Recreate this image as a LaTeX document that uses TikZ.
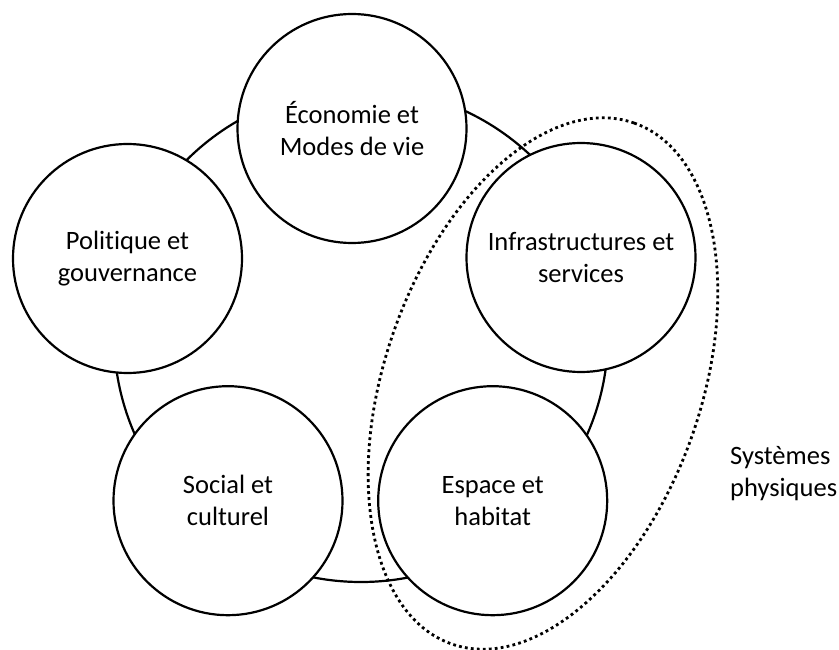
\documentclass[tikz,border=0pt]{standalone}
\usepackage{fontspec}
\setmainfont{Carlito}[RawFeature=-liga]
\begin{document}
\begin{tikzpicture}[x=1pt,y=-1pt,
  pole/.style={circle,draw,line width=2.2pt,fill=white,minimum size=229pt,inner sep=0pt,align=center,font=\fontsize{26.5}{32}\selectfont},
  ring/.style={draw,line width=2.2pt},
  group/.style={line width=2.8pt,dash pattern=on 2.8pt off 3.2pt}]
\useasboundingbox (0,0) rectangle (839,650);
\coordinate (o) at (361,335);
\draw[ring] (o) circle[radius=247];
\node[pole] (eco) at (352,128.5) {Économie et\\Modes de vie};
\node[pole] (pol) at (127.5,258.5) {Politique et\\gouvernance};
\node[pole] (inf) at (581,257.5) {Infrastructures et\\services};
\node[pole] (soc) at (228,500.7) {Social et\\culturel};
\node[pole] (esp) at (492.7,500.7) {Espace et\\habitat};
\coordinate (s) at (543,383.5);
\draw[group,rotate around={70.7:(s)}] (s) ellipse[x radius=276,y radius=158];
\node[anchor=west,align=left,inner sep=0pt,font=\fontsize{26.5}{32}\selectfont] (sys) at (730,473.5) {Systèmes\\physiques};
\end{tikzpicture}
\end{document}
